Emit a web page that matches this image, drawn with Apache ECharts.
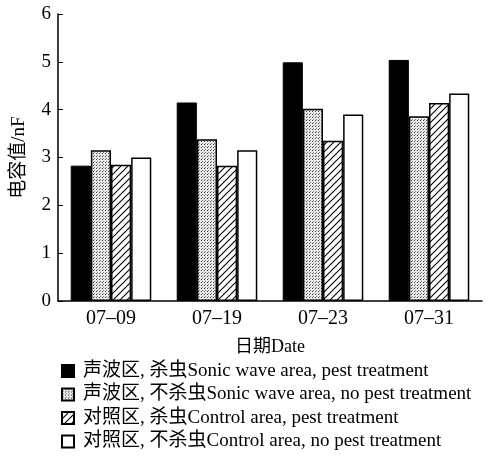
<!DOCTYPE html>
<html><head><meta charset="utf-8">
<script src="https://cdn.jsdelivr.net/npm/echarts@6/dist/echarts.min.js"></script>
<style>html,body{margin:0;padding:0;background:#fff}#c{width:489px;height:457px}</style>
</head><body><div id="c"></div>
<script>
const categories = ['07\u201309', '07\u201319', '07\u201323', '07\u201331'];
const seriesNames = [
  '声波区, 杀虫Sonic wave area, pest treatment',
  '声波区, 不杀虫Sonic wave area, no pest treatment',
  '对照区, 杀虫Control area, pest treatment',
  '对照区, 不杀虫Control area, no pest treatment'
];
const sonicPest = [2.83, 4.15, 4.99, 5.04];
const sonicNoPest = [3.15, 3.38, 4.02, 3.86];
const controlPest = [2.85, 2.83, 3.35, 4.14];
const controlNoPest = [3.0, 3.15, 3.9, 4.34];
const yTicks = [0, 1, 2, 3, 4, 5, 6];

function dotPattern() {
  const c = document.createElement('canvas'); c.width = 3; c.height = 3;
  const g = c.getContext('2d');
  g.fillStyle = '#e8e8e8'; g.fillRect(0, 0, 3, 3);
  g.fillStyle = '#444'; g.fillRect(0, 0, 1, 1);
  g.fillStyle = '#888'; g.fillRect(1, 2, 1, 1);
  return c;
}
function hatchPattern() {
  const c = document.createElement('canvas'); c.width = 7; c.height = 7;
  const g = c.getContext('2d');
  g.fillStyle = '#fff'; g.fillRect(0, 0, 7, 7);
  g.strokeStyle = '#000'; g.lineWidth = 1.1;
  g.beginPath();
  g.moveTo(-1, 8); g.lineTo(8, -1);
  g.moveTo(-1, 1); g.lineTo(1, -1);
  g.moveTo(6, 8); g.lineTo(8, 6);
  g.stroke();
  return c;
}
const serif = '"Liberation Serif", "Noto Sans CJK SC", serif';
const chart = echarts.init(document.getElementById('c'), null, {renderer: 'canvas'});
const base = {type: 'bar', barGap: '0%', barCategoryGap: '24%'};
chart.setOption({
  animation: false,
  grid: {left: 58, right: 7, top: 14, bottom: 156},
  legend: {
    orient: 'vertical', left: 56, top: 356.5, itemWidth: 12, itemHeight: 12, itemGap: 4.5,
    icon: 'rect',
    textStyle: {fontFamily: serif, fontSize: 19, lineHeight: 19, color: '#000', padding: [0, 0, 0, 4]},
    data: seriesNames
  },
  xAxis: {
    type: 'category', data: categories,
    name: '日期Date', nameLocation: 'middle', nameGap: 37,
    nameTextStyle: {fontFamily: serif, fontSize: 18, color: '#000'},
    axisLine: {lineStyle: {color: '#000', width: 1.5}},
    axisTick: {inside: true, length: 6, lineStyle: {color: '#000'}},
    axisLabel: {fontFamily: serif, fontSize: 20, color: '#000', margin: 8}
  },
  yAxis: {
    type: 'value', min: yTicks[0], max: yTicks[yTicks.length - 1], interval: 1,
    name: '电容值/nF', nameLocation: 'middle', nameGap: 29, nameRotate: 90,
    nameTextStyle: {fontFamily: serif, fontSize: 19, color: '#000'},
    axisLine: {show: true, lineStyle: {color: '#000', width: 1.5}},
    axisTick: {show: true, inside: true, length: 5, lineStyle: {color: '#000'}},
    axisLabel: {fontFamily: serif, fontSize: 19, color: '#000', margin: 7},
    splitLine: {show: false}
  },
  series: [
    Object.assign({}, base, {name: seriesNames[0], data: sonicPest,
      itemStyle: {color: '#000', borderColor: '#000', borderWidth: 1}}),
    Object.assign({}, base, {name: seriesNames[1], data: sonicNoPest,
      itemStyle: {color: {image: dotPattern(), repeat: 'repeat'}, borderColor: '#000', borderWidth: 1.5}}),
    Object.assign({}, base, {name: seriesNames[2], data: controlPest,
      itemStyle: {color: {image: hatchPattern(), repeat: 'repeat'}, borderColor: '#000', borderWidth: 1.5}}),
    Object.assign({}, base, {name: seriesNames[3], data: controlNoPest,
      itemStyle: {color: '#fff', borderColor: '#000', borderWidth: 1.5}})
  ]
});
</script></body></html>
